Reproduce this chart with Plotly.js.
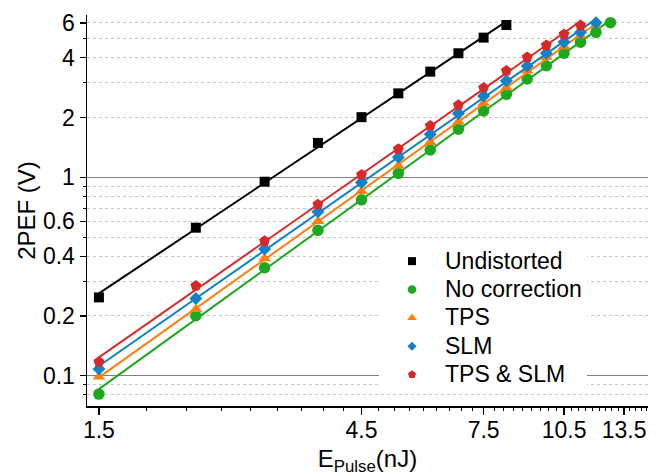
<!DOCTYPE html>
<html>
<head>
<meta charset="utf-8">
<script src="https://cdn.plot.ly/plotly-3.0.1.min.js"></script>
<style>
  html, body { margin: 0; padding: 0; background: #ffffff; }
  #chart { width: 662px; height: 476px; }
</style>
</head>
<body>
<div id="chart"></div>
<script>
// Pulse energy (nJ) for each measurement step
const energy = [1.5, 2.25, 3.0, 3.75, 4.5, 5.25, 6.0, 6.75, 7.5, 8.25, 9.0, 9.75, 10.5, 11.25, 12.0, 12.75];

// Two-photon excited fluorescence signal (V)
const undistorted  = [0.248, 0.557, 0.950, 1.49, 2.01, 2.65, 3.41, 4.22, 5.06, 5.86];
const noCorrection = [0.0807, 0.2005, 0.350, 0.54, 0.77, 1.047, 1.373, 1.746, 2.16, 2.62, 3.13, 3.65, 4.22, 4.80, 5.38, 6.02];
const tps          = [0.0987, 0.216, 0.390, 0.60, 0.85, 1.144, 1.501, 1.908, 2.36, 2.84, 3.44, 4.03, 4.56, 5.18, 5.86];
const slm          = [0.108, 0.245, 0.435, 0.67, 0.94, 1.262, 1.648, 2.10, 2.57, 3.07, 3.64, 4.22, 4.81, 5.38, 6.02];
const tpsSlm       = [0.1175, 0.284, 0.477, 0.73, 1.03, 1.389, 1.820, 2.315, 2.83, 3.44, 4.03, 4.63, 5.26, 5.84];

const seriesNames = ['Undistorted', 'No correction', 'TPS', 'SLM', 'TPS & SLM'];

// Axis tick labels
const xTickVals = [1.5, 4.5, 7.5, 10.5, 13.5];
const xTickText = ['1.5', '4.5', '7.5', '10.5', '13.5'];
const yTickVals = [0.1, 0.2, 0.4, 0.6, 1, 2, 4, 6];
const yTickText = ['0.1', '0.2', '0.4', '0.6', '1', '2', '4', '6'];
const yMinorVals = [0.08, 0.09, 0.2, 0.3, 0.4, 0.5, 0.6, 0.7, 0.8, 0.9, 2, 3, 4, 5, 6];
const yDecadeVals = [0.1, 1];

const series = [
  { name: seriesNames[0], y: undistorted,  color: '#000000', symbol: 'square',      size: 10,   legendSize: 8 },
  { name: seriesNames[1], y: noCorrection, color: '#1ea81e', symbol: 'circle',      size: 11.5, legendSize: 8.5 },
  { name: seriesNames[2], y: tps,          color: '#ff7f0e', symbol: 'triangle-up', size: 11,   legendSize: 8.5 },
  { name: seriesNames[3], y: slm,          color: '#1281c6', symbol: 'diamond',     size: 10,   legendSize: 7 },
  { name: seriesNames[4], y: tpsSlm,       color: '#d62a2a', symbol: 'pentagon',    size: 11.5, legendSize: 8.5 }
];

// Least-squares power-law fit (straight line in log-log space)
function powerFit(xs, ys) {
  const n = ys.length;
  let sx = 0, sy = 0, sxx = 0, sxy = 0;
  for (let i = 0; i < n; i++) {
    const lx = Math.log10(xs[i]), ly = Math.log10(ys[i]);
    sx += lx; sy += ly; sxx += lx * lx; sxy += lx * ly;
  }
  const b = (n * sxy - sx * sy) / (n * sxx - sx * sx);
  const a = (sy - b * sx) / n;
  return x => Math.pow(10, a + b * Math.log10(x));
}

const traces = [];
series.forEach((s) => {
  const xs = energy.slice(0, s.y.length);
  const f = powerFit(xs, s.y);
  const x0 = xs[0], x1 = xs[xs.length - 1];
  traces.push({
    x: [x0, x1], y: [f(x0), f(x1)],
    mode: 'lines', type: 'scatter', showlegend: false, hoverinfo: 'skip',
    line: { color: s.color, width: 2 }, xaxis: 'x', yaxis: 'y'
  });
  traces.push({
    x: xs, y: s.y, name: s.name,
    mode: 'markers', type: 'scatter', showlegend: false,
    marker: { color: s.color, symbol: s.symbol, size: s.size, line: { width: 0 } },
    xaxis: 'x', yaxis: 'y'
  });
});
// Legend entries with smaller symbols and larger text
series.forEach((s) => {
  traces.push({
    x: [null], y: [null], name: '<span style="font-size:23px">' + s.name + '</span>',
    mode: 'markers', type: 'scatter', showlegend: true,
    marker: { color: s.color, symbol: s.symbol, size: s.legendSize, line: { width: 0 } },
    xaxis: 'x', yaxis: 'y'
  });
});

// Minor x ticks every third of a nanojoule
const xMinorVals = [];
for (let k = 0; k <= 40; k++) xMinorVals.push(1.5 + k / 3);

const xRange = [Math.log10(1.427), Math.log10(14.92)];
const yRange = [Math.log10(0.0703), Math.log10(6.58)];
const fontFamily = 'Liberation Sans, Arial, sans-serif';

const layout = {
  width: 662, height: 476,
  margin: { l: 87, r: 14, t: 15, b: 70 },
  paper_bgcolor: '#ffffff', plot_bgcolor: '#ffffff',
  font: { family: fontFamily, color: '#000000', size: 22 },
  showlegend: true,
  legend: {
    x: 0.5205, y: 0.4195, xanchor: 'left', yanchor: 'top',
    bgcolor: '#ffffff', borderwidth: 0,
    font: { family: fontFamily, size: 19.5, color: '#000000' },
    itemwidth: 56, tracegroupgap: 0
  },
  xaxis: {
    type: 'log', range: xRange,
    tickmode: 'array', tickvals: xTickVals, ticktext: xTickText,
    ticks: 'outside', ticklen: 7, tickwidth: 1.2, tickcolor: '#000000',
    showline: true, linecolor: '#000000', linewidth: 1.5,
    showgrid: false, zeroline: false,
    tickfont: { size: 23 }, ticklabelstandoff: -4,
    title: { text: 'E<sub>Pulse</sub>(nJ)', font: { size: 24 }, standoff: 9 }
  },
  xaxis2: {
    type: 'log', range: xRange, overlaying: 'x', anchor: 'y',
    tickmode: 'array', tickvals: xMinorVals, showticklabels: false,
    ticks: 'outside', ticklen: 4, tickwidth: 1, tickcolor: '#000000',
    showline: false, showgrid: false, zeroline: false
  },
  yaxis: {
    type: 'log', range: yRange,
    tickmode: 'array', tickvals: yTickVals, ticktext: yTickText,
    ticks: 'outside', ticklen: 6, tickwidth: 1.2, tickcolor: '#000000',
    showline: true, linecolor: '#000000', linewidth: 1.5,
    showgrid: false, zeroline: false,
    tickfont: { size: 23 },
    title: { text: '2PEF (V)', font: { size: 24 }, standoff: 0 }
  },
  yaxis2: {
    type: 'log', range: yRange, overlaying: 'y', anchor: 'x',
    tickmode: 'array', tickvals: yMinorVals, showticklabels: false,
    ticks: 'outside', ticklen: 3.5, tickwidth: 1, tickcolor: '#000000',
    showgrid: true, gridcolor: '#c4c4c4', gridwidth: 1, griddash: 'dot',
    showline: false, zeroline: false
  },
  yaxis3: {
    type: 'log', range: yRange, overlaying: 'y', anchor: 'x',
    tickmode: 'array', tickvals: yDecadeVals, showticklabels: false, ticks: '',
    showgrid: true, gridcolor: '#808080', gridwidth: 1,
    showline: false, zeroline: false
  }
};

// Invisible traces so the helper axes are drawn
traces.unshift(
  { x: [null], y: [null], xaxis: 'x2', yaxis: 'y2', mode: 'markers', showlegend: false, hoverinfo: 'skip' },
  { x: [null], y: [null], xaxis: 'x', yaxis: 'y3', mode: 'markers', showlegend: false, hoverinfo: 'skip' }
);

Plotly.newPlot('chart', traces, layout, { displayModeBar: false, staticPlot: true });
</script>
</body>
</html>
